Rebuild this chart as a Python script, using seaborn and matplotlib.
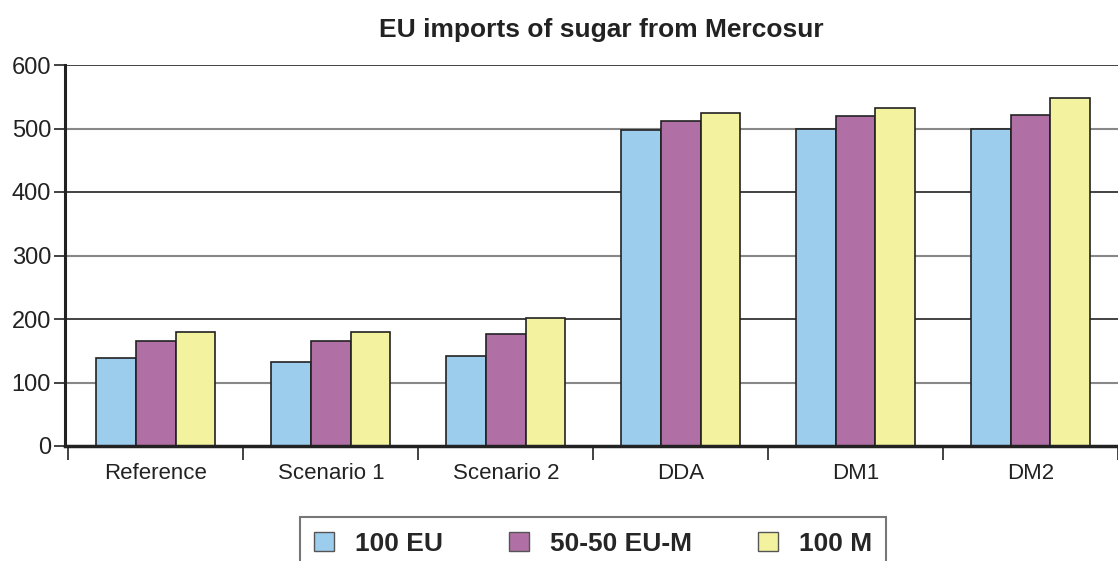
import matplotlib
matplotlib.use("Agg")
import matplotlib.pyplot as plt
import seaborn as sns
import pandas as pd
from matplotlib import font_manager as fm
from matplotlib.patches import Patch

categories = ["Reference", "Scenario 1", "Scenario 2", "DDA", "DM1", "DM2"]
series_names = ["100 EU", "50-50 EU-M", "100 M"]
eu100 = [138, 132, 141, 498, 500, 500]
eum5050 = [165, 165, 176, 512, 519, 521]
m100 = [180, 180, 201, 525, 533, 548]
colors = ["#9DCDED", "#B070A6", "#F3F29E"]

names = {f.name for f in fm.fontManager.ttflist}
narrow = "Liberation Sans Narrow" if "Liberation Sans Narrow" in names else "Liberation Sans"

sns.set_theme(style="white")
plt.rcParams["font.family"] = [narrow, "DejaVu Sans"]

rows = []
for s, vals in zip(series_names, [eu100, eum5050, m100]):
    for c, v in zip(categories, vals):
        rows.append({"cat": c, "series": s, "value": v})
df = pd.DataFrame(rows)

fig = plt.figure(figsize=(11.18, 5.61), dpi=100)
ax = fig.add_axes([65/1118, 1-446/561, 1-65/1118, (446-65)/561])

sns.barplot(data=df, x="cat", y="value", hue="series", palette=colors,
            width=0.68, edgecolor="#222222", linewidth=1.2, ax=ax, legend=False,
            saturation=1)

ax.set_ylim(0, 600)
ax.set_xlim(-0.52, -0.52 + (1118-65)/177)
ax.set_yticks([0, 100, 200, 300, 400, 500, 600])
for y in [100, 300, 500]:
    ax.axhline(y, color="#888888", lw=1.5, zorder=0)
for y in [200, 400, 600]:
    ax.axhline(y, color="#222222", lw=1.2, zorder=0)

ax.set_xlabel("")
ax.set_ylabel("")
for sp in ["top", "right"]:
    ax.spines[sp].set_visible(False)
ax.spines["left"].set_color("#222222")
ax.spines["left"].set_linewidth(2.2)
ax.spines["bottom"].set_color("#222222")
ax.spines["bottom"].set_linewidth(2.5)

ax.tick_params(axis="y", which="major", length=8, width=1.2, color="#222222",
               left=True, labelsize=17, pad=2, labelcolor="#222222")
ax.set_xticks(range(len(categories)))
ax.set_xticklabels(categories)
ax.tick_params(axis="x", which="major", length=0, labelsize=16, pad=12, labelcolor="#222222")
ax.set_xticks([i - 0.5 for i in range(len(categories)+1)], minor=True)
ax.tick_params(axis="x", which="minor", length=10, width=1.2, color="#222222", bottom=True)

fig.text(601/1118, 1-30/561, "EU imports of sugar from Mercosur", ha="center", va="center",
         fontsize=19, fontweight="bold", color="#222222")

handles = [Patch(facecolor=c, edgecolor="#555555", lw=1) for c in colors]
leg = fig.legend(handles, series_names, loc="upper center", bbox_to_anchor=(593/1118, 1-517/561),
                 ncol=3, frameon=True, fancybox=False, prop={"weight": "bold", "size": 19},
                 handlelength=0.75, handleheight=0.75, columnspacing=2.5, handletextpad=0.8,
                 borderpad=0.55, borderaxespad=0)
leg.get_frame().set_edgecolor("#555555")
leg.get_frame().set_linewidth(1.5)

fig.savefig("out.png", dpi=100)
